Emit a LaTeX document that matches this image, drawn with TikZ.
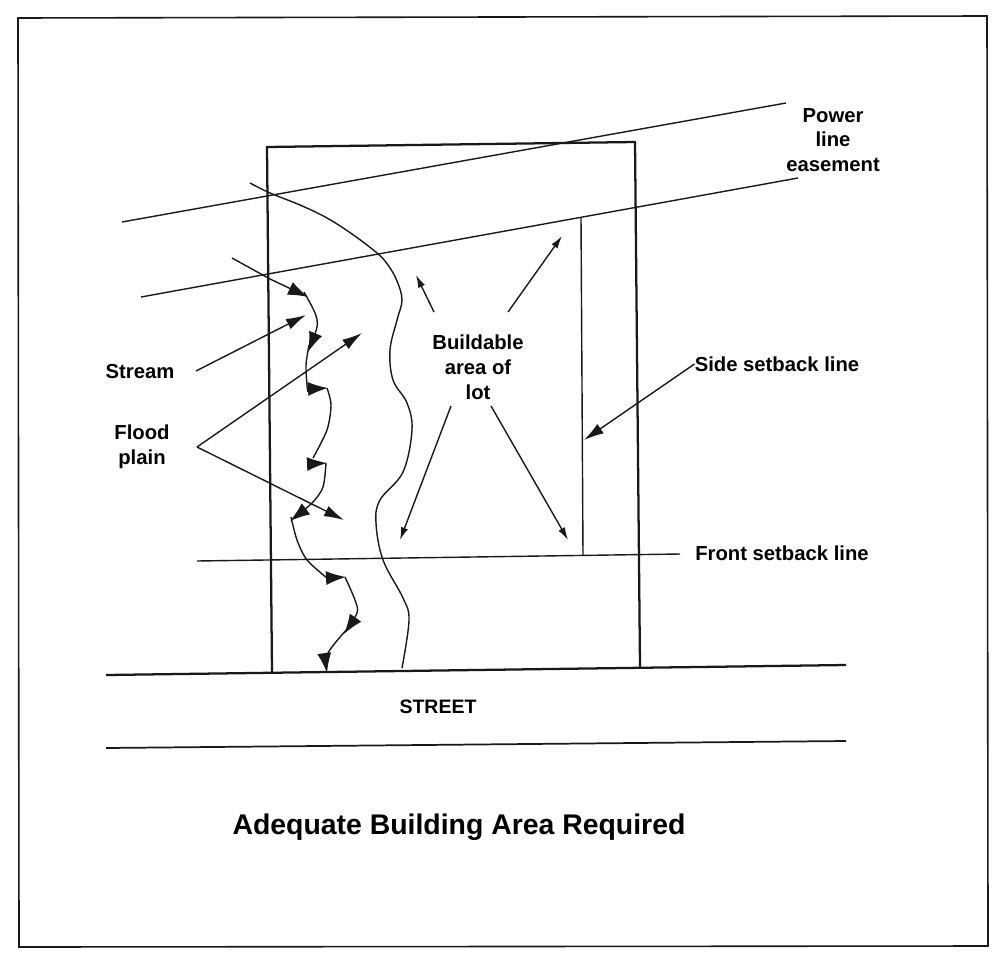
\documentclass[tikz,border=0pt]{standalone}
\usepackage{fontspec}
\setmainfont{Liberation Sans}
\usetikzlibrary{arrows.meta}
\usetikzlibrary{positioning}

\begin{document}
\begin{tikzpicture}[x=0.75pt,y=-0.75pt,
    thinline/.style={line width=1.05pt,black!90},
    thickline/.style={line width=1.7pt,black!90},
    leader/.style={thinline,-{Latex[length=15pt,width=8.5pt]}},
    smallleader/.style={thinline,-{Latex[length=9.5pt,width=5.5pt]}},
    streamline/.style={thinline,-{Latex[length=15pt,width=10.5pt]}},
    lbl/.style={font=\bfseries\fontsize{15.2}{18.6}\selectfont,align=center,inner sep=0pt}]
    \useasboundingbox (0,0) rectangle (1002,956);
    % frame
    \draw[line width=1.2pt,black!90] (18,18) -- (987,16) -- (988,946) -- (19,947) -- cycle;
    % lot
    \draw[thickline] (272,672) -- (267,147) -- (635,142) -- (640,667);
    % street
    \draw[thickline] (106,675) -- (846,665);
    \draw[thinline,line width=1.3pt] (106,748) -- (846,741);
    \node[lbl,font=\bfseries\fontsize{14.6}{18}\selectfont] (ST) at (438,707) {STREET};
    % easement and setbacks
    \draw[thinline] (122,222) -- (786,103);
    \draw[thinline] (141,297) -- (798,178);
    \draw[thinline] (581,217) -- (583,556);
    \draw[thinline] (197,561) -- (680,554);
    % edge of flood plain
    \draw[thinline] plot[smooth,tension=0.6] coordinates {(250,183) (270,193) (300,205) (327,218) (352,234) (377,253) (388,265) (397,281)
        (402,300) (397,320) (390,350) (393,380) (407,403) (412,430) (403,472) (380,500) (376,523)
        (383,560) (403,598) (409,620) (402,668)};
    % stream
    \draw[streamline] (232,258) -- (270,279) -- (308,297);
    \draw[streamline] plot[smooth] coordinates {(304,292) (315,313) (317,327) (308,352)};
    \draw[thinline] plot[smooth] coordinates {(309,345) (306,365) (307,385) (308,392)};
    \draw[streamline] (308,389) -- (328,388);
    \draw[thinline] plot[smooth] coordinates {(327,388) (331,405) (327,430) (313,458)};
    \draw[streamline] (308,464) -- (327,463);
    \draw[streamline] plot[smooth] coordinates {(326,463) (323,487) (312,503) (290,521)};
    \draw[thinline] plot[smooth] coordinates {(291,517) (297,540) (307,560) (327,578)};
    \draw[streamline] (327,578) -- (346,577);
    \draw[streamline] plot[smooth] coordinates {(345,577) (355,600) (357,613) (344,634)};
    \draw[streamline] plot[smooth] coordinates {(348,628) (328,653) (327,673)};
    % labels
    \node[lbl] (PL) at (833,140) {Power\\line\\easement};
    \node[lbl] (BA) at (478,367) {Buildable\\area of\\lot};
    \node[lbl] (SS) at (777,364) {Side setback line};
    \node[lbl] (FS) at (782,553) {Front setback line};
    \node[lbl] (SM) at (140,372) {Stream};
    \node[lbl] (FP) at (142,447) {Flood\\plain};
    \node[lbl,font=\bfseries\fontsize{21.3}{25}\selectfont] (TT) at (459,827) {Adequate Building Area Required};
    % arrows out of the labels
    \coordinate (SMa) at (196,371);
    \coordinate (SMb) at (306,315);
    \coordinate (FPa) at (197,447);
    \coordinate (FPb) at (362,333);
    \coordinate (FPc) at (344,520);
    \coordinate (SSb) at (584,440);
    \coordinate (BAa) at (434,312);
    \coordinate (BAb) at (416,275);
    \coordinate (BAc) at (508,312);
    \coordinate (BAd) at (562,236);
    \coordinate (BAe) at (451,406);
    \coordinate (BAf) at (400,540);
    \coordinate (BAg) at (491,406);
    \coordinate (BAh) at (568,540);
    \draw[leader] (SMa) -- (SMb);
    \draw[leader] (FPa) -- (FPb);
    \draw[leader] (FPa) -- (FPc);
    \draw[leader] (SS.west) -- (SSb);
    \draw[smallleader] (BAa) -- (BAb);
    \draw[smallleader] (BAc) -- (BAd);
    \draw[smallleader] (BAe) -- (BAf);
    \draw[smallleader] (BAg) -- (BAh);
\end{tikzpicture}
\end{document}
